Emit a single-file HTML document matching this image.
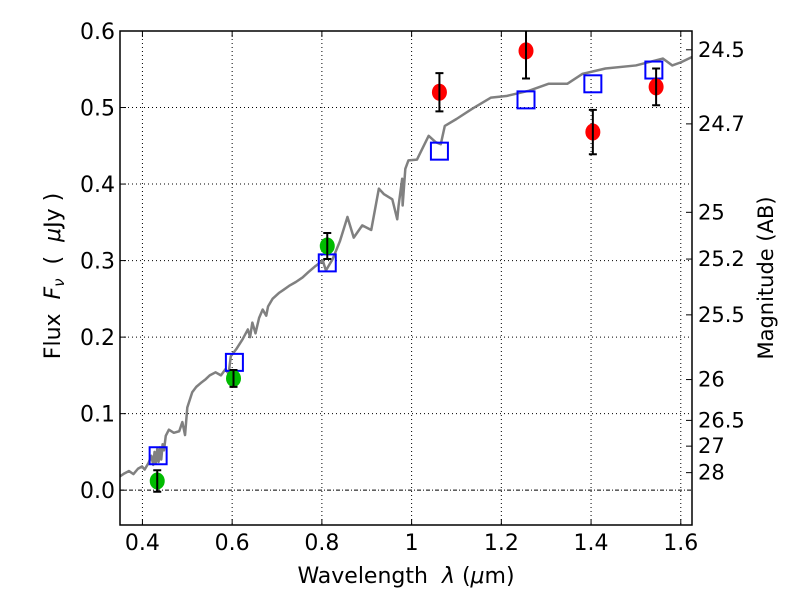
<!DOCTYPE html>
<html><head><meta charset="utf-8"><style>
body{margin:0;background:#fff;}
svg{display:block;font-family:"DejaVu Sans","Liberation Sans",sans-serif;}
</style></head><body>
<svg id="chart" width="800" height="600" viewBox="0 0 800 600" xmlns="http://www.w3.org/2000/svg">
<g id="grid"></g>
<g id="plot"></g>
<g id="axes"></g>
<text x="406" y="583" font-size="22" text-anchor="middle" xml:space="preserve">Wavelength  <tspan font-style="italic">λ</tspan> (<tspan font-style="italic">μ</tspan>m)</text>
<text transform="translate(60,276) rotate(-90)" font-size="22" text-anchor="middle" xml:space="preserve">Flux  <tspan font-style="italic">F</tspan><tspan font-style="italic" font-size="15" dy="4">ν</tspan><tspan dy="-4">  (  </tspan><tspan font-style="italic">μ</tspan>Jy )</text>
<text transform="translate(773,278) rotate(-90)" font-size="21" text-anchor="middle">Magnitude (AB)</text>
</svg>
<script>
const specLam=[0.35,0.36,0.37,0.38,0.39,0.399,0.405,0.414,0.42,0.424,0.427,0.43,0.433,0.436,0.439,0.442,0.445,0.448,0.452,0.459,0.47,0.482,0.489,0.495,0.5,0.511,0.52,0.53,0.541,0.55,0.563,0.575,0.585,0.592,0.597,0.61,0.623,0.635,0.64,0.645,0.652,0.66,0.668,0.676,0.68,0.69,0.705,0.715,0.727,0.742,0.757,0.77,0.786,0.802,0.809,0.824,0.84,0.857,0.871,0.89,0.91,0.927,0.938,0.957,0.968,0.971,0.979,0.980,0.986,0.993,1.012,1.038,1.053,1.065,1.074,1.1,1.134,1.177,1.211,1.262,1.305,1.347,1.381,1.432,1.5,1.56,1.581,1.6,1.625];
const specFlux=[0.018,0.022,0.025,0.021,0.028,0.031,0.027,0.036,0.045,0.033,0.05,0.036,0.054,0.037,0.056,0.04,0.06,0.052,0.071,0.079,0.075,0.077,0.089,0.072,0.108,0.128,0.135,0.14,0.145,0.15,0.154,0.15,0.158,0.152,0.175,0.185,0.197,0.21,0.2,0.219,0.205,0.225,0.236,0.228,0.24,0.25,0.258,0.262,0.267,0.272,0.278,0.285,0.293,0.300,0.287,0.302,0.325,0.357,0.330,0.346,0.34,0.394,0.387,0.380,0.354,0.372,0.407,0.372,0.420,0.431,0.432,0.463,0.455,0.452,0.476,0.485,0.498,0.513,0.515,0.522,0.531,0.531,0.544,0.551,0.555,0.564,0.555,0.559,0.566];
const obsLam=[0.433,0.603,0.812,1.062,1.255,1.404,1.545];
const obsFlux=[0.012,0.146,0.319,0.520,0.574,0.468,0.527];
const obsErr=[0.014,0.011,0.017,0.025,0.036,0.029,0.024];
const obsColor=['#00bb00','#00bb00','#00bb00','#ff0000','#ff0000','#ff0000','#ff0000'];
const modLam=[0.435,0.605,0.812,1.062,1.255,1.404,1.54];
const modFlux=[0.045,0.167,0.297,0.443,0.510,0.531,0.549];
const xTicks=[0.4,0.6,0.8,1.0,1.2,1.4,1.6];
const xTickLabels=['0.4','0.6','0.8','1','1.2','1.4','1.6'];
const yTicks=[0,0.1,0.2,0.3,0.4,0.5,0.6];
const yTickLabels=['0.0','0.1','0.2','0.3','0.4','0.5','0.6'];
const magTicks=[24.5,24.7,25,25.2,25.5,26,26.5,27,28];
const magLabels=['24.5','24.7','25','25.2','25.5','26','26.5','27','28'];

const L=120,R=692,T=31,B=525;
const xmin=0.35,xmax=1.625,ymin=-0.0455,ymax=0.6;
const X=v=>L+(v-xmin)/(xmax-xmin)*(R-L);
const Y=v=>B-(v-ymin)/(ymax-ymin)*(B-T);
const NS='http://www.w3.org/2000/svg';
function mk(tag,attrs,parent){const e=document.createElementNS(NS,tag);for(const k in attrs)e.setAttribute(k,attrs[k]);parent.appendChild(e);return e;}
const grid=document.getElementById('grid'),plot=document.getElementById('plot'),axes=document.getElementById('axes');

xTicks.forEach((t,i)=>{
  const g=mk('line',{x1:X(t),x2:X(t),y1:T,y2:B,stroke:'#000','stroke-width':1,'stroke-dasharray':'1,3'},grid);
  
  
  mk('line',{x1:X(t),x2:X(t),y1:B,y2:B-6,stroke:'#000'},axes);
  mk('line',{x1:X(t),x2:X(t),y1:T,y2:T+6,stroke:'#000'},axes);
  const tx=mk('text',{x:X(t),y:B+25,'font-size':22,'text-anchor':'middle'},axes);
  tx.textContent=xTickLabels[i];
  
  
});
yTicks.forEach((t,i)=>{
  if(t!==0){const g=mk('line',{x1:L,x2:R,y1:Y(t),y2:Y(t),stroke:'#000','stroke-width':1,'stroke-dasharray':'1,3'},grid);
  
  }
  mk('line',{x1:L,x2:L+6,y1:Y(t),y2:Y(t),stroke:'#000'},axes);
  const tx=mk('text',{x:L-5,y:Y(t)+8,'font-size':22,'text-anchor':'end'},axes);
  tx.textContent=yTickLabels[i];
  
  
});
const zl=mk('line',{x1:L,x2:R,y1:Y(0),y2:Y(0),stroke:'#000','stroke-width':1,'stroke-dasharray':'4,2,1,2'},grid);



magTicks.forEach((m,i)=>{
  const f=Math.pow(10,(23.9-m)/2.5);
  mk('line',{x1:R,x2:R-6,y1:Y(f),y2:Y(f),stroke:'#000'},axes);
  const tx=mk('text',{x:R+6,y:Y(f)+7,'font-size':21},axes);
  tx.textContent=magLabels[i];
  
  
});

const clip=mk('clipPath',{id:'cp'},plot);mk('rect',{x:L,y:T,width:R-L,height:B-T},clip);
const pg=mk('g',{'clip-path':'url(#cp)'},plot);
const sp=mk('polyline',{points:specLam.map((l,i)=>X(l)+','+Y(specFlux[i])).join(' '),fill:'none',stroke:'#808080','stroke-width':2.5,'stroke-linejoin':'round'},pg);



modLam.forEach((l,i)=>{
  const s=mk('rect',{x:X(l)-8.5,y:Y(modFlux[i])-8.5,width:17,height:17,fill:'none',stroke:'#0000ff','stroke-width':2},pg);
  
  
});
obsLam.forEach((l,i)=>{
  const c=mk('ellipse',{cx:X(l),cy:Y(obsFlux[i]),rx:7.5,ry:8.5,fill:obsColor[i]},pg);
  
  
  const y1=Y(obsFlux[i]+obsErr[i]),y2=Y(obsFlux[i]-obsErr[i]),x=X(l);
  const e=mk('path',{d:`M${x},${y1}V${y2}M${x-4},${y1}H${x+4}M${x-4},${y2}H${x+4}`,stroke:'#000','stroke-width':2,fill:'none'},pg);
  
  
});
const fr=mk('rect',{x:L,y:T,width:R-L,height:B-T,fill:'none',stroke:'#000','stroke-width':1.5},axes);


</script>
</body></html>
